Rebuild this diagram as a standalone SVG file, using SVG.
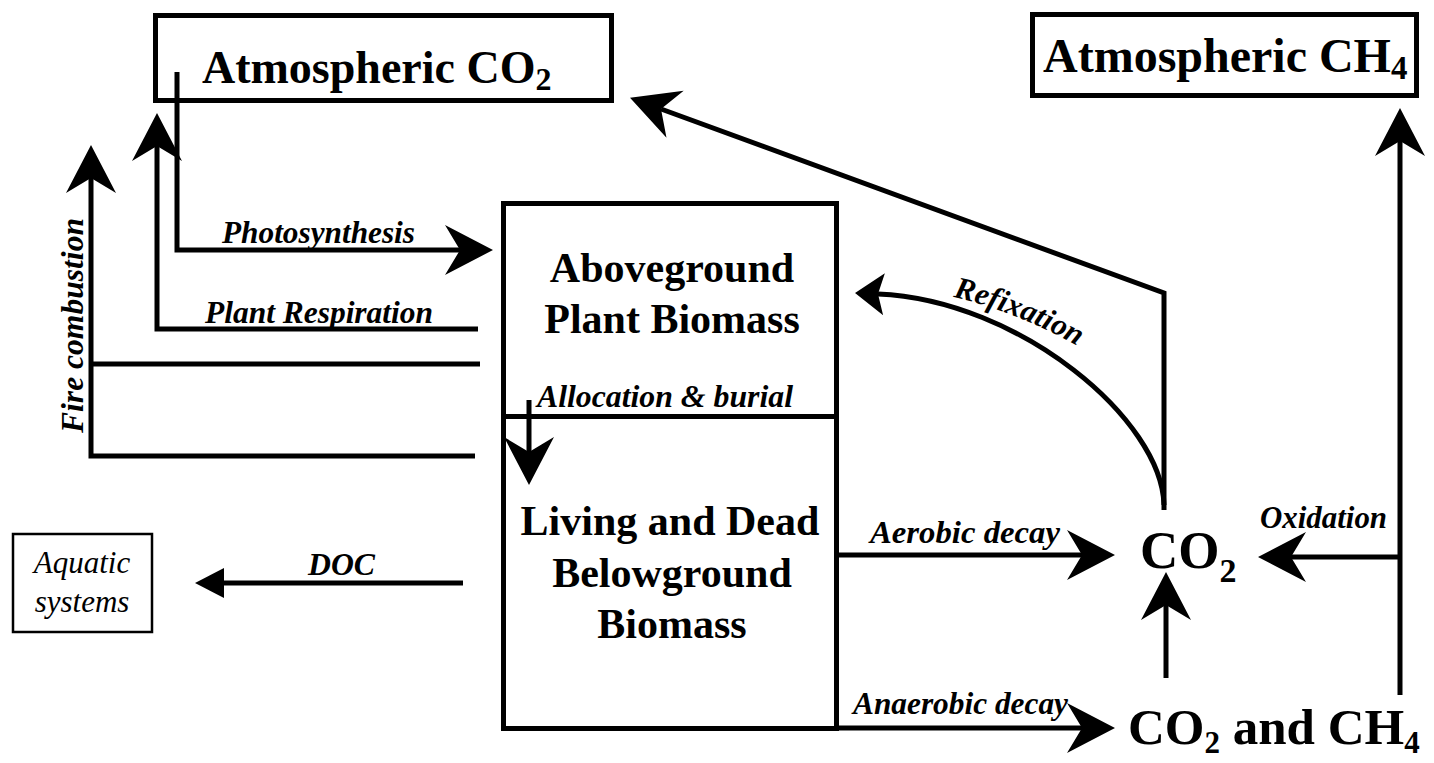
<svg xmlns="http://www.w3.org/2000/svg" width="1434" height="763" viewBox="0 0 1434 763">
<style>
.box{fill:#fff;stroke:#000;stroke-width:5}
.thin{fill:#fff;stroke:#000;stroke-width:2.5}
.ln{fill:none;stroke:#000;stroke-width:5}
.t{font-family:"Liberation Serif","Times New Roman",serif;font-weight:bold;fill:#000}
.lab{font-family:"Liberation Serif","Times New Roman",serif;font-weight:bold;font-style:italic;font-size:31px;fill:#000}
.it{font-family:"Liberation Serif","Times New Roman",serif;font-style:italic;font-size:31px;fill:#000}
</style>
<defs>
<marker id="ah" markerUnits="userSpaceOnUse" viewBox="-20 -30 60 60" markerWidth="60" markerHeight="60" refX="0" refY="0" orient="auto" overflow="visible">
<path d="M33,0 L-15,-25 L0,0 L-15,25 Z" fill="#000"/>
</marker>
<marker id="ahs" markerUnits="userSpaceOnUse" viewBox="-20 -30 60 60" markerWidth="60" markerHeight="60" refX="0" refY="0" orient="auto" overflow="visible">
<path d="M23,0 L-6,-21 L0,0 L-6,21 Z" fill="#000"/>
</marker>
<marker id="tri" markerUnits="userSpaceOnUse" viewBox="-5 -20 40 40" markerWidth="40" markerHeight="40" refX="0" refY="0" orient="auto" overflow="visible">
<path d="M29,0 L0,-15 L0,15 Z" fill="#000"/>
</marker>
<path id="refixPath" d="M953,297 Q1020,312 1092,354"/>
</defs>

<g id="atm-co2">
<rect class="box" x="155.5" y="15.5" width="456" height="85"/>
<text class="t" x="202" y="83" font-size="46">Atmospheric CO<tspan font-size="32" dy="7">2</tspan></text>
</g>

<g id="atm-ch4">
<rect class="box" x="1032.5" y="14.5" width="384" height="81"/>
<text class="t" x="1043" y="72" font-size="48">Atmospheric CH<tspan font-size="33" dy="7">4</tspan></text>
</g>

<g id="aboveground">
<rect class="box" x="503.5" y="203.5" width="333" height="213"/>
<text class="t" x="672" y="282" font-size="42" text-anchor="middle">Aboveground</text>
<text class="t" x="672" y="333" font-size="42" text-anchor="middle">Plant Biomass</text>
</g>

<g id="belowground">
<rect class="box" x="503.5" y="416.5" width="333" height="312"/>
<text class="t" x="670" y="535" font-size="42" text-anchor="middle">Living and Dead</text>
<text class="t" x="672" y="587" font-size="42" text-anchor="middle">Belowground</text>
<text class="t" x="672" y="638" font-size="42" text-anchor="middle">Biomass</text>
</g>

<g id="aquatic">
<rect class="thin" x="13" y="534" width="139" height="98"/>
<text class="it" x="82" y="573" text-anchor="middle">Aquatic</text>
<text class="it" x="82" y="612" text-anchor="middle">systems</text>
</g>

<g id="soil-co2">
<text class="t" x="1140" y="568" font-size="53">CO<tspan font-size="34" dy="14">2</tspan></text>
</g>

<g id="soil-co2-ch4">
<text class="t" x="1128" y="744" font-size="51">CO<tspan font-size="31" dy="9">2</tspan><tspan dy="-9"> and CH</tspan><tspan font-size="31" dy="9">4</tspan></text>
</g>

<g id="connectors">
<path class="ln" d="M177,72 V250 H460" marker-end="url(#ah)"/>
<path class="ln" d="M478,329 H157 V146" marker-end="url(#ah)"/>
<path class="ln" d="M475,456 H91 V178" marker-end="url(#ah)"/>
<path class="ln" d="M91,364 H480"/>
<path class="ln" d="M529,400 V452" marker-end="url(#ah)"/>
<path class="ln" d="M463,583 H224" marker-end="url(#tri)"/>
<path class="ln" d="M837,555 H1082" marker-end="url(#ah)"/>
<path class="ln" d="M837,728 H1082" marker-end="url(#ah)"/>
<path class="ln" d="M1400,557 H1291" marker-end="url(#ah)"/>
<path class="ln" d="M1166,678 V605" marker-end="url(#ah)"/>
<path class="ln" d="M1400,695 V141" marker-end="url(#ah)"/>
<path class="ln" d="M1164,510 V293 L661,109" marker-end="url(#ah)"/>
<path class="ln" d="M1164,505 C1162,420 1020,300 878,294" marker-end="url(#ahs)"/>

<text class="lab" x="222" y="243" textLength="193" lengthAdjust="spacingAndGlyphs">Photosynthesis</text>
<text class="lab" x="205" y="323" textLength="228" lengthAdjust="spacingAndGlyphs">Plant Respiration</text>
<text class="lab" transform="translate(83,433) rotate(-90)" textLength="215" lengthAdjust="spacingAndGlyphs">Fire combustion</text>
<text class="lab" x="537" y="407" textLength="256" lengthAdjust="spacingAndGlyphs">Allocation &amp; burial</text>
<text class="lab" x="308" y="575" textLength="67" lengthAdjust="spacingAndGlyphs">DOC</text>
<text class="lab" x="870" y="543" textLength="190" lengthAdjust="spacingAndGlyphs">Aerobic decay</text>
<text class="lab" x="853" y="714" textLength="215" lengthAdjust="spacingAndGlyphs">Anaerobic decay</text>
<text class="lab" x="1260" y="528" textLength="127" lengthAdjust="spacingAndGlyphs">Oxidation</text>
<text class="lab"><textPath href="#refixPath">Refixation</textPath></text>
</g>
</svg>
